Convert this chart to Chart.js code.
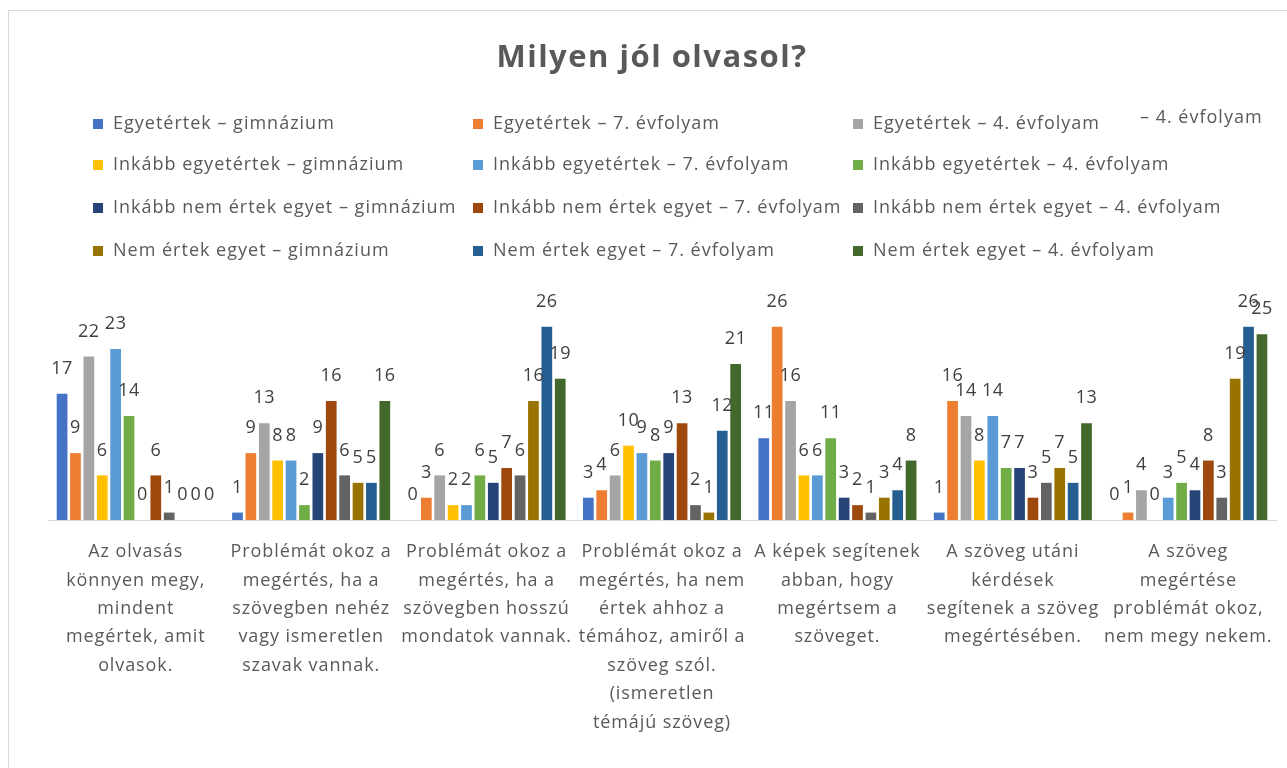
<!DOCTYPE html>
<html>
<head>
<meta charset="utf-8">
<script src="https://cdn.jsdelivr.net/npm/chart.js@4.4.1/dist/chart.umd.min.js"></script>
<style>
html,body{margin:0;padding:0;background:#fff;}
#wrap{position:relative;width:1287px;height:768px;}
</style>
</head>
<body>
<div id="wrap"><canvas id="c" width="1287" height="768"></canvas></div>
<script>
const chartTitle = "Milyen jól olvasol?";
const categories = [
  ["Az olvasás", "könnyen megy,", "mindent", "megértek, amit", "olvasok."],
  ["Problémát okoz a", "megértés, ha a", "szövegben nehéz", "vagy ismeretlen", "szavak vannak."],
  ["Problémát okoz a", "megértés, ha a", "szövegben hosszú", "mondatok vannak."],
  ["Problémát okoz a", "megértés, ha nem", "értek ahhoz a", "témához, amiről a", "szöveg szól.", "(ismeretlen", "témájú szöveg)"],
  ["A képek segítenek", "abban, hogy", "megértsem a", "szöveget."],
  ["A szöveg utáni", "kérdések", "segítenek a szöveg", "megértésében."],
  ["A szöveg", "megértése", "problémát okoz,", "nem megy nekem."]
];
const seriesNames = [
  "Egyetértek – gimnázium", "Egyetértek – 7. évfolyam", "Egyetértek – 4. évfolyam",
  "Inkább egyetértek – gimnázium", "Inkább egyetértek – 7. évfolyam", "Inkább egyetértek – 4. évfolyam",
  "Inkább nem értek egyet – gimnázium", "Inkább nem értek egyet – 7. évfolyam", "Inkább nem értek egyet – 4. évfolyam",
  "Nem értek egyet – gimnázium", "Nem értek egyet – 7. évfolyam", "Nem értek egyet – 4. évfolyam"
];
const egyGim   = [17, 1, 0, 3, 11, 1, 0];
const egy7     = [9, 9, 3, 4, 26, 16, 1];
const egy4     = [22, 13, 6, 6, 16, 14, 4];
const inkEgyGim = [6, 8, 2, 10, 6, 8, 0];
const inkEgy7  = [23, 8, 2, 9, 6, 14, 3];
const inkEgy4  = [14, 2, 6, 8, 11, 7, 5];
const inkNemGim = [0, 9, 5, 9, 3, 7, 4];
const inkNem7  = [6, 16, 7, 13, 2, 3, 8];
const inkNem4  = [1, 6, 6, 2, 1, 5, 3];
const nemGim   = [0, 5, 16, 1, 3, 7, 19];
const nem7     = [0, 5, 26, 12, 4, 5, 26];
const nem4     = [0, 16, 19, 21, 8, 13, 25];
const seriesValues = [egyGim, egy7, egy4, inkEgyGim, inkEgy7, inkEgy4, inkNemGim, inkNem7, inkNem4, nemGim, nem7, nem4];
const seriesColors = ["#4472C4", "#ED7D31", "#A5A5A5", "#FFC000", "#5B9BD5", "#70AD47", "#264478", "#9E480E", "#636363", "#997300", "#255E91", "#43682B"];
const strayLegendText = "– 4. évfolyam";

const FONT = "'Open Sans', 'DejaVu Sans', sans-serif";

const decorPlugin = {
  id: 'decor',
  beforeDraw(chart) {
    const ctx = chart.ctx;
    ctx.save();
    ctx.strokeStyle = '#d9d9d9';
    ctx.lineWidth = 1;
    ctx.strokeRect(8.5, 10.5, 1300, 800);
    ctx.restore();
  },
  afterDraw(chart) {
    const ctx = chart.ctx;
    ctx.save();
    // title
    ctx.fillStyle = '#595959';
    ctx.font = "bold 31px " + FONT;
    ctx.letterSpacing = '1.5px';
    ctx.textAlign = 'center';
    ctx.textBaseline = 'middle';
    ctx.fillText(chartTitle, 652, 58);
    // legend grid
    ctx.font = "18px " + FONT;
    ctx.letterSpacing = '1px';
    ctx.textAlign = 'left';
    const colX = [93, 473, 853];
    const rowY = [124, 165, 208, 251];
    chart.data.datasets.forEach((ds, i) => {
      const col = i % 3, row = Math.floor(i / 3);
      const x = colX[col], y = rowY[row];
      ctx.fillStyle = ds.backgroundColor;
      ctx.fillRect(x, y - 5, 10, 10);
      ctx.fillStyle = '#595959';
      ctx.fillText(ds.label, x + 20, y);
    });
    ctx.fillText(strayLegendText, 1140, 118);
    // category labels
    const xs = chart.scales.x;
    ctx.font = "18px " + FONT;
    ctx.letterSpacing = '0.9px';
    ctx.textAlign = 'center';
    ctx.fillStyle = '#595959';
    chart.data.labels.forEach((lines, j) => {
      const cx = xs.getPixelForTick(j);
      lines.forEach((ln, k) => {
        ctx.fillText(ln, cx, 552 + k * 28.4);
      });
    });
    // value labels
    ctx.font = "18px " + FONT;
    ctx.letterSpacing = '0.5px';
    ctx.textAlign = 'center';
    ctx.fillStyle = '#404040';
    chart.data.datasets.forEach((ds, i) => {
      const meta = chart.getDatasetMeta(i);
      meta.data.forEach((bar, j) => {
        ctx.fillText(String(ds.data[j]), bar.x, bar.y - 25);
      });
    });
    ctx.restore();
  }
};

new Chart(document.getElementById('c'), {
  type: 'bar',
  data: {
    labels: categories,
    datasets: seriesValues.map((vals, i) => ({
      label: seriesNames[i],
      data: vals,
      backgroundColor: seriesColors[i],
      borderWidth: 0,
      categoryPercentage: 0.916,
      barPercentage: 0.8
    }))
  },
  options: {
    responsive: false,
    animation: false,
    layout: { padding: { top: 297, left: 48, right: 11, bottom: 0 } },
    plugins: { legend: { display: false }, title: { display: false }, tooltip: { enabled: false } },
    scales: {
      y: { display: false, min: 0, max: 30 },
      x: {
        grid: { display: false },
        border: { display: true, color: '#d9d9d9', width: 1 },
        ticks: { display: false },
        afterFit(s) { s.height = 248; }
      }
    }
  },
  plugins: [decorPlugin]
});
</script>
</body>
</html>
